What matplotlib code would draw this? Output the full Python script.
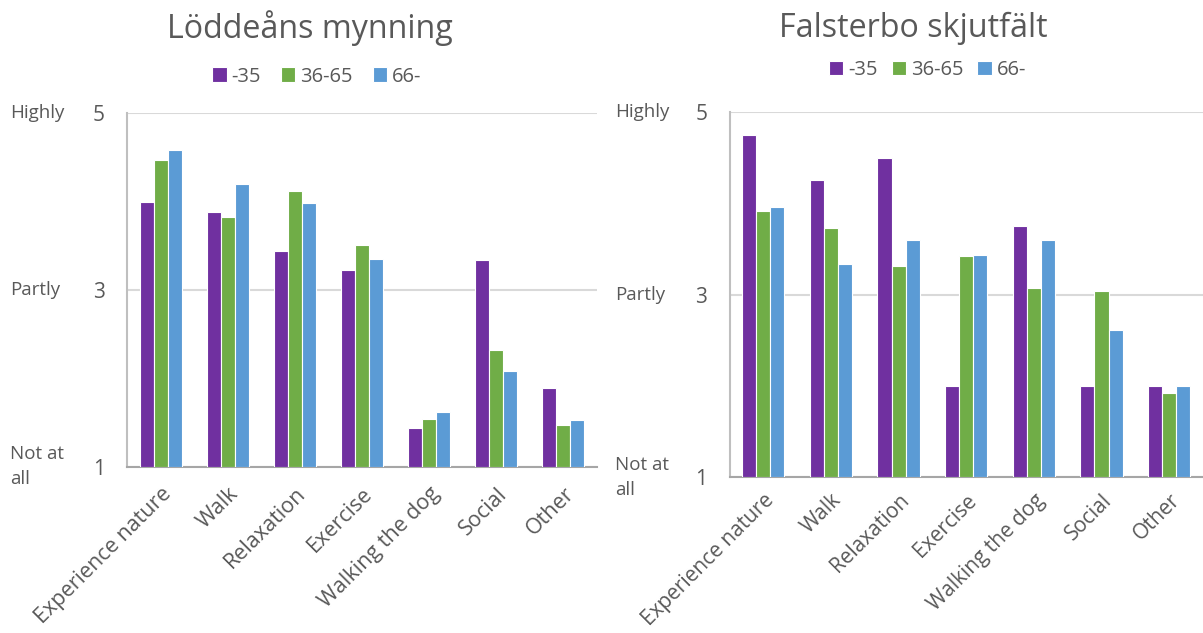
"""Two clustered bar charts: reasons for visiting, by age group, at two sites."""

import matplotlib.pyplot as plt
import matplotlib.transforms as mtransforms
import numpy as np

plt.rcParams["font.family"] = ["Open Sans", "DejaVu Sans"]

CATEGORIES = ["Experience nature", "Walk", "Relaxation", "Exercise",
              "Walking the dog", "Social", "Other"]
AGE_GROUPS = ["-35", "36-65", "66-"]

# Löddeåns mynning, mean score per age group
LODDE_35 = [3.99, 3.88, 3.44, 3.22, 1.44, 3.33, 1.89]
LODDE_36_65 = [4.46, 3.82, 4.12, 3.50, 1.54, 2.32, 1.47]
LODDE_66 = [4.58, 4.19, 3.98, 3.35, 1.62, 2.08, 1.53]

# Falsterbo skjutfält
FALST_35 = [4.75, 4.25, 4.50, 2.00, 3.75, 2.00, 2.00]
FALST_36_65 = [3.92, 3.73, 3.31, 3.42, 3.07, 3.04, 1.92]
FALST_66 = [3.96, 3.34, 3.60, 3.43, 3.60, 2.61, 2.00]

Y_TICKS = [1, 3, 5]
Y_WORDS = ["Not at\nall", "Partly", "Highly"]

COLORS = ["#7030A0", "#70AD47", "#5B9BD5"]
TEXT = "#595959"
GRID = "#d9d9d9"

# title, series, axes box in pixels (x0, top, x1, bottom), x of the words,
# title centre, legend centre, legend column spacing, x label size and pad
PANELS = [
    ("Löddeåns mynning", [LODDE_35, LODDE_36_65, LODDE_66],
     [127, 112.7, 597, 466.7], 10, (309.5, 28), (317, 76.5), 1.0, 15.5, 12),
    ("Falsterbo skjutfält", [FALST_35, FALST_36_65, FALST_66],
     [729.5, 112, 1203, 477.3], 615, (913.5, 28), (927.5, 70), 0.7, 15, 9),
]

W, H = 1203, 633
fig = plt.figure(figsize=(W / 100, H / 100), dpi=100)

x = np.arange(len(CATEGORIES))
bar_w = 0.625 / 3

for (title, series, (x0, y0, x1, y1), word_x, title_xy, leg_xy, colsp,
     xl_size, xl_pad) in PANELS:
    ax = fig.add_axes([x0 / W, 1 - y1 / H, (x1 - x0) / W, (y1 - y0) / H])
    for i, (vals, name, col) in enumerate(zip(series, AGE_GROUPS, COLORS)):
        ax.bar(x + (i - 1) * bar_w, np.array(vals) - 1, bottom=1,
               width=bar_w, color=col, edgecolor="white", linewidth=0.8,
               label=name, zorder=3)
    ax.set_xlim(-0.5, len(CATEGORIES) - 0.5)
    ax.set_ylim(1, 5)
    ax.set_yticks(Y_TICKS)
    ax.set_yticklabels([str(t) for t in Y_TICKS])
    ax.tick_params(axis="y", length=0, pad=16, labelsize=15, labelcolor=TEXT)
    ax.set_xticks(x)
    ax.set_xticklabels(CATEGORIES, rotation=45, ha="right",
                       rotation_mode="anchor", fontsize=xl_size, color=TEXT)
    ax.tick_params(axis="x", length=0, pad=xl_pad)
    ax.yaxis.grid(True, color=GRID, linewidth=1.5, zorder=0)
    ax.set_axisbelow(True)
    for side in ("top", "right"):
        ax.spines[side].set_visible(False)
    ax.spines["left"].set_color("#bfbfbf")
    ax.spines["left"].set_linewidth(1.5)
    ax.spines["bottom"].set_color("#a6a6a6")
    ax.spines["bottom"].set_linewidth(1.5)

    trans = mtransforms.blended_transform_factory(fig.transFigure, ax.transData)
    for t, word in zip(Y_TICKS, Y_WORDS):
        ax.text(word_x / W, t, word, transform=trans, ha="left", va="center",
                fontsize=13.5, color=TEXT, linespacing=1.5)

    fig.text(title_xy[0] / W, 1 - title_xy[1] / H, title, ha="center",
             va="center", fontsize=23.2, color=TEXT)
    fig.legend(*ax.get_legend_handles_labels(), ncol=3, frameon=False,
               loc="center", bbox_to_anchor=(leg_xy[0] / W, 1 - leg_xy[1] / H),
               fontsize=14.5, labelcolor=TEXT, handlelength=0.7,
               handleheight=0.7, handletextpad=0.25, columnspacing=colsp)

fig.savefig("out.png", dpi=100)
